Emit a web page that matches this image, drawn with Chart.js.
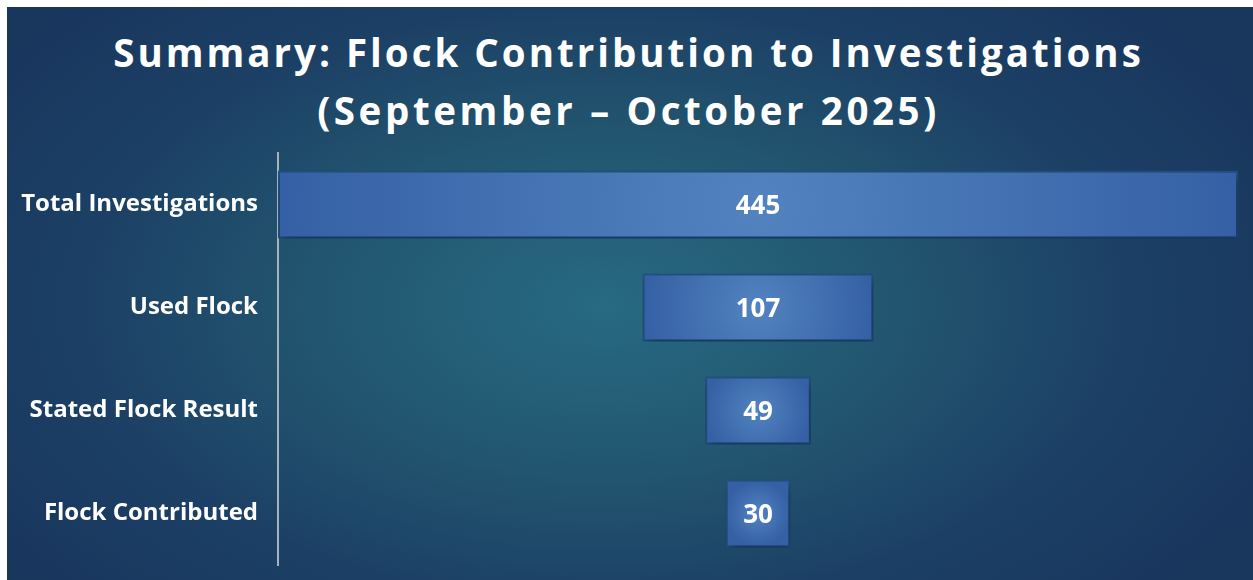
<!DOCTYPE html>
<html>
<head>
<meta charset="utf-8">
<script src="https://cdn.jsdelivr.net/npm/chart.js@4.4.1/dist/chart.umd.min.js"></script>
<style>
    html, body { margin: 0; padding: 0; background: #ffffff; }
    .panel {
        position: absolute; left: 7px; top: 7px; width: 1246px; height: 573px;
        background: radial-gradient(ellipse 60% 75% at 48% 52%, #276a82 0%, #22556f 40%, #1c4065 70%, #19365d 100%);
    }
    .title {
        position: absolute; left: 2px; top: 23px; width: 1253px; margin: 0;
        text-align: center; color: #ffffff;
        font: 700 38.5px "Open Sans", sans-serif; letter-spacing: 3px; line-height: 58px;
    }
    .title span { letter-spacing: 3.6px; }
    #funnel { position: absolute; left: 0; top: 0; }
</style>
</head>
<body>
<div class="panel"></div>
<h1 class="title">Summary: Flock Contribution to Investigations<br><span>(September – October 2025)</span></h1>
<canvas id="funnel" width="1253" height="580"></canvas>
<script>
// данные воронки
const stages = ['Total Investigations', 'Used Flock', 'Stated Flock Result', 'Flock Contributed'];
const counts = [445, 107, 49, 30];

const maxCount = Math.max(...counts);

/*
* Градиент для каждого бара: светлее в центре, темнее к краям
*/
function barFill(ctx) {
    const chart = ctx.chart;
    if (!chart.chartArea || ctx.dataIndex === undefined) return '#3d6aae';
    const v = counts[ctx.dataIndex];
    const xs = chart.scales.x;
    const ys = chart.scales.y;
    const left = xs.getPixelForValue(-v / 2);
    const right = xs.getPixelForValue(v / 2);
    const cx = (left + right) / 2;
    const cy = ys.getPixelForValue(ctx.dataIndex);
    const r = Math.max((right - left) / 2, 1);
    const g = chart.ctx.createRadialGradient(cx, cy, 0, cx, cy, r);
    g.addColorStop(0, '#5283bf');
    g.addColorStop(1, '#3560a5');
    return g;
}

// тень под барами
const barShadow = {
    id: 'barShadow',
    beforeDatasetsDraw(chart) {
        const c = chart.ctx;
        c.save();
        c.shadowColor = 'rgba(5, 20, 45, 0.45)';
        c.shadowBlur = 10;
        c.shadowOffsetX = 3;
        c.shadowOffsetY = 6;
    },
    afterDatasetsDraw(chart) {
        chart.ctx.restore();
    }
};

// подписи значений в центре баров
const valueLabels = {
    id: 'valueLabels',
    afterDatasetsDraw(chart) {
        const c = chart.ctx;
        const meta = chart.getDatasetMeta(0);
        c.save();
        c.fillStyle = '#ffffff';
        c.font = 'bold 26px "Open Sans", sans-serif';
        c.textAlign = 'center';
        c.textBaseline = 'middle';
        meta.data.forEach((bar, i) => {
            c.fillText(String(counts[i]), (bar.x + bar.base) / 2, bar.y + 2);
        });
        c.restore();
    }
};

new Chart(
    document.getElementById('funnel'),
    {
        type: 'bar',
        data: {
            labels: stages,
            datasets: [
                {
                    data: counts.map(v => [-v / 2, v / 2]),
                    backgroundColor: barFill,
                    borderColor: '#21507f',
                    borderWidth: 2,
                    borderSkipped: false,
                    barPercentage: 0.66,
                    categoryPercentage: 1
                }
            ]
        },
        options: {
            indexAxis: 'y',
            responsive: false,
            animation: false,
            layout: { padding: { top: 153, right: 15, bottom: 15, left: 0 } },
            scales: {
                x: {
                    display: false,
                    min: -maxCount / 2,
                    max: maxCount / 2
                },
                y: {
                    grid: { display: false },
                    border: { display: true, color: '#a7b1bf', width: 2 },
                    ticks: {
                        color: '#ffffff',
                        padding: 12,
                        font: { family: 'Open Sans', size: 24, weight: 'bold' }
                    },
                    afterFit(scale) {
                        scale.width = 278;
                        scale.paddingTop = 0;
                        scale.paddingBottom = 0;
                    }
                }
            },
            plugins: {
                legend: { display: false },
                tooltip: { enabled: false }
            }
        },
        plugins: [barShadow, valueLabels]
    }
);
</script>
</body>
</html>
